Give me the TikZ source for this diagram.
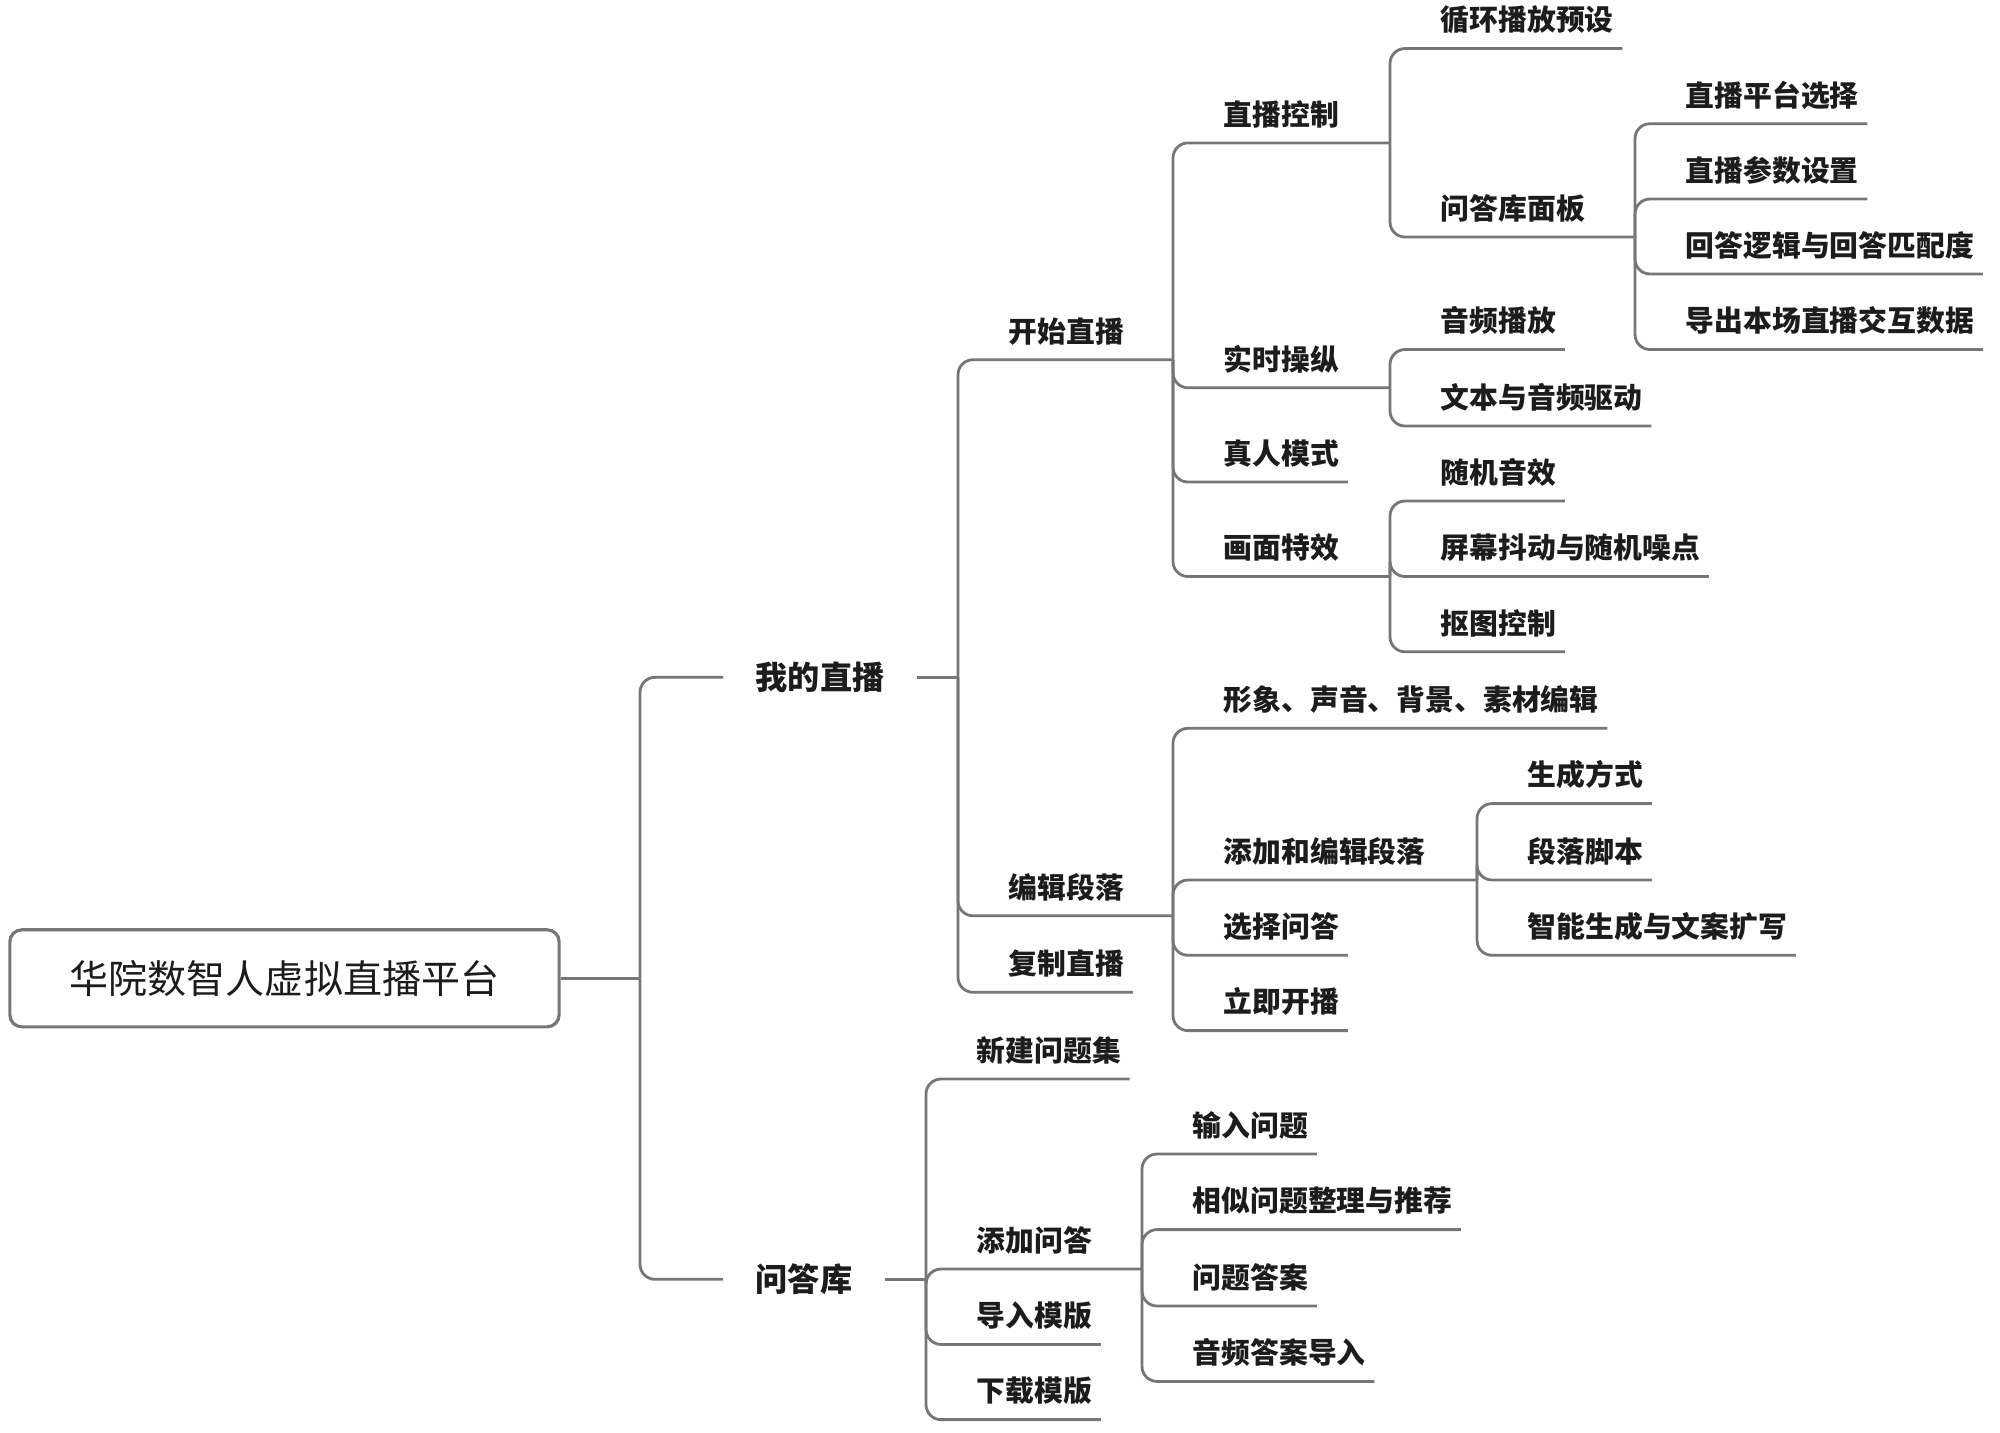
\documentclass[tikz,border=0pt]{standalone}
\usepackage{fontspec}
\newfontfamily\cjk{Noto Sans CJK SC}
\usetikzlibrary{positioning}
\definecolor{linegray}{RGB}{118,118,118}
\definecolor{ink}{RGB}{28,28,28}

\begin{document}
\begin{tikzpicture}[
  x=0.01cm, y=-0.01cm,
  font=\cjk, text=ink,
  root/.style={draw=linegray, line width=0.9pt, rounded corners=0.12cm, fill=white,
               minimum width=5.49cm, minimum height=0.97cm, inner sep=0pt,
               font=\cjk\fontsize{11.1}{13}\selectfont},
  topic/.style={anchor=west, inner xsep=0.32cm, inner ysep=0pt,
                font=\cjk\bfseries\fontsize{9.15}{11}\selectfont},
  item/.style={anchor=south west, inner xsep=0pt, inner ysep=0.17cm, text depth=0pt,
               font=\cjk\bfseries\fontsize{8.2}{10}\selectfont},
  link/.style={draw=linegray, line width=0.8pt, rounded corners=0.15cm}]
\useasboundingbox (0,0) rectangle (2000,1432);
\node[root] (root) at (284.5,978.3) {华院数智人虚拟直播平台};
\node[topic] (wdzb) at (723,677.3)  {我的直播};
\node[topic] (wdk)  at (723,1279.3) {问答库};
% junctions where a parent meets its children
\coordinate (root-j)  at (640,978.3);
\coordinate (wdzb-j)  at (958,677.3);
\coordinate (wdk-j)   at (926,1279.3);
\coordinate (kszb-j)  at (1173,359.7);
\coordinate (bjdl-j)  at (1173,915.8);
\coordinate (zbkz-j)  at (1390,142.9);
\coordinate (sscz-j)  at (1390,387.8);
\coordinate (hmtx-j)  at (1390,576.5);
\coordinate (wdkmb-j) at (1635,237);
\coordinate (tjbj-j)  at (1477,880);
\coordinate (tjwd-j)  at (1142,1269);
% my live
\node[item] (kszb)  at (1008,359.7)  {开始直播};
\node[item] (bjdl)  at (1008,915.8)  {编辑段落};
\node[item] (fzzb)  at (1008,992.3)  {复制直播};
\node[item] (zbkz)  at (1223,142.9)  {直播控制};
\node[item] (sscz)  at (1223,387.8)  {实时操纵};
\node[item] (zrms)  at (1223,482)    {真人模式};
\node[item] (hmtx)  at (1223,576.5)  {画面特效};
\node[item] (xhbf)  at (1440,48.5)   {循环播放预设};
\node[item] (wdkmb) at (1440,237)    {问答库面板};
\node[item] (zbpt)  at (1685,123.7)  {直播平台选择};
\node[item] (zbcs)  at (1685,199)    {直播参数设置};
\node[item] (hdlj)  at (1685,274)    {回答逻辑与回答匹配度};
\node[item] (dcsj)  at (1685,349.5)  {导出本场直播交互数据};
\node[item] (ypbf)  at (1440,349.5)  {音频播放};
\node[item] (wbqd)  at (1440,426)    {文本与音频驱动};
\node[item] (sjyx)  at (1440,501)    {随机音效};
\node[item] (pmdd)  at (1440,576.5)  {屏幕抖动与随机噪点};
\node[item] (ktkz)  at (1440,651.8)  {抠图控制};
\node[item] (xxbj)  at (1223,728.3)  {形象、声音、背景、素材编辑};
\node[item] (tjbj)  at (1223,880)    {添加和编辑段落};
\node[item] (xzwd)  at (1223,955.3)  {选择问答};
\node[item] (ljkb)  at (1223,1030.6) {立即开播};
\node[item] (scfs)  at (1527,803.6)  {生成方式};
\node[item] (dljb)  at (1527,880)    {段落脚本};
\node[item] (znsc)  at (1527,955.3)  {智能生成与文案扩写};
% q&a library
\node[item] (xjwt)  at (976,1079)    {新建问题集};
\node[item] (tjwd)  at (976,1269)    {添加问答};
\node[item] (drmb)  at (976,1344.4)  {导入模版};
\node[item] (xzmb)  at (976,1419.6)  {下载模版};
\node[item] (srwt)  at (1192,1154)   {输入问题};
\node[item] (xswt)  at (1192,1229.6) {相似问题整理与推荐};
\node[item] (wtda)  at (1192,1306)   {问题答案};
\node[item] (ypda)  at (1192,1381.4) {音频答案导入};
\draw[link] (root.east) -- (root-j);
\draw[link] (root-j) |- (wdzb.west);
\draw[link] (root-j) |- (wdk.west);
\draw[link] (wdzb.east) -- (wdzb-j);
\draw[link] (wdk.east) -- (wdk-j);
\foreach \p/\c in {wdzb/kszb, wdzb/bjdl, kszb/zbkz, kszb/sscz, kszb/hmtx,
                   zbkz/wdkmb, bjdl/tjbj, wdk/tjwd}
  \draw[link] (\p-j) |- (\c.south west) -- (\c-j);
\foreach \p/\c in {zbkz/xhbf, wdkmb/zbpt, wdkmb/zbcs, wdkmb/hdlj, wdkmb/dcsj,
                   sscz/ypbf, sscz/wbqd, kszb/zrms, hmtx/sjyx, hmtx/pmdd, hmtx/ktkz,
                   bjdl/xxbj, bjdl/xzwd, bjdl/ljkb, tjbj/scfs, tjbj/dljb, tjbj/znsc,
                   wdzb/fzzb, wdk/xjwt, wdk/drmb, wdk/xzmb,
                   tjwd/srwt, tjwd/xswt, tjwd/wtda, tjwd/ypda}
  \draw[link] (\p-j) |- (\c.south west) -- ([xshift=0.08cm]\c.south east);
\end{tikzpicture}
\end{document}
